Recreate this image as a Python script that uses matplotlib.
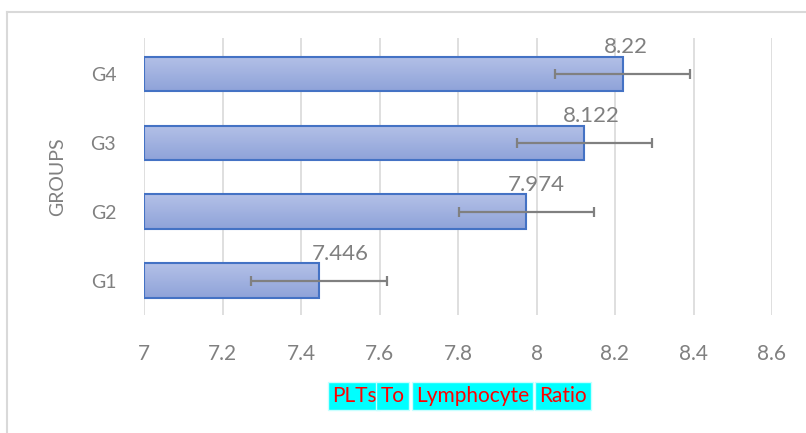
import matplotlib.pyplot as plt
import numpy as np
from matplotlib.colors import LinearSegmentedColormap
from matplotlib.lines import Line2D

plt.rcParams['font.family'] = ['Lato', 'DejaVu Sans']

groups = ['G1', 'G2', 'G3', 'G4']
ratio = [7.446, 7.974, 8.122, 8.22]
err = [0.173, 0.172, 0.172, 0.172]
labels = ['7.446', '7.974', '8.122', '8.22']
xticks = [7, 7.2, 7.4, 7.6, 7.8, 8, 8.2, 8.4, 8.6]
xtick_labels = ['7', '7.2', '7.4', '7.6', '7.8', '8', '8.2', '8.4', '8.6']
title_words = ['PLTs', 'To', 'Lymphocyte', 'Ratio']

W, H = 806, 433
fig = plt.figure(figsize=(W / 100, H / 100), dpi=100)
ax = fig.add_axes([144 / W, 1 - 315 / H, (772 - 144) / W, (315 - 38) / H])

y = np.arange(len(groups))
bars = ax.barh(y, [v - 7 for v in ratio], left=7, height=0.5,
               color='none', edgecolor='#4472c4', linewidth=1.5, zorder=3)

# gradient fill inside each bar
cmap = LinearSegmentedColormap.from_list('g', ['#8fa3d9', '#b3c0e7'])
grad = np.linspace(0, 1, 64).reshape(-1, 1)
for b in bars:
    x0, y0, w, h = b.get_x(), b.get_y(), b.get_width(), b.get_height()
    im = ax.imshow(grad, cmap=cmap, aspect='auto', origin='lower',
                   extent=[x0, x0 + w, y0, y0 + h], zorder=2)
    im.set_clip_path(b)

ax.errorbar(ratio, y, xerr=err, fmt='none', ecolor='#808080',
            elinewidth=1.6, capsize=3.6, capthick=1.6, zorder=4)

# data labels, nudged like the original
nudge = [15, 7, 5, 2]
for yi, v, lab, dx in zip(y, ratio, labels, nudge):
    ax.annotate(lab, (v, yi + 0.25), xytext=(dx, -0.5), textcoords='offset points',
                ha='center', va='bottom', fontsize=16, color='#808080', zorder=5)

ax.set_xlim(7, 8.6)
ax.set_ylim(-0.5, 3.52)
ax.set_xticks(xticks)
ax.set_xticklabels(xtick_labels)
ax.set_yticks(y)
ax.set_yticklabels(groups)
ax.tick_params(axis='x', length=0, pad=21, labelsize=15, labelcolor='#808080')
ax.tick_params(axis='y', length=0, pad=20, labelsize=14, labelcolor='#808080')
ax.grid(axis='x', color='#d9d9d9', linewidth=1.2, zorder=0)
ax.set_axisbelow(True)
for s in ax.spines.values():
    s.set_visible(False)

fig.text(58 / W, 1 - 177 / H, 'GROUPS', rotation=90, ha='center', va='center',
         fontsize=14, color='#808080')

# axis title: each word in its own cyan box
word_x = [354, 392.5, 472.5, 563]
for wx, word in zip(word_x, title_words):
    fig.text(wx / W, 1 - 396 / H, word, ha='center', va='center', fontsize=15,
             color='#ff0000',
             bbox=dict(boxstyle='square,pad=0.2', facecolor='#00ffff',
                       edgecolor='#c8ffff', linewidth=1))

# chart frame (partly cut off at right and bottom)
fig.add_artist(Line2D([7 / W, 1.01], [1 - 12 / H, 1 - 12 / H],
                      transform=fig.transFigure, color='#d9d9d9', linewidth=1.5))
fig.add_artist(Line2D([7 / W, 7 / W], [1 - 12 / H, -0.01],
                      transform=fig.transFigure, color='#d9d9d9', linewidth=1.5))

fig.savefig('out.png', dpi=100)
